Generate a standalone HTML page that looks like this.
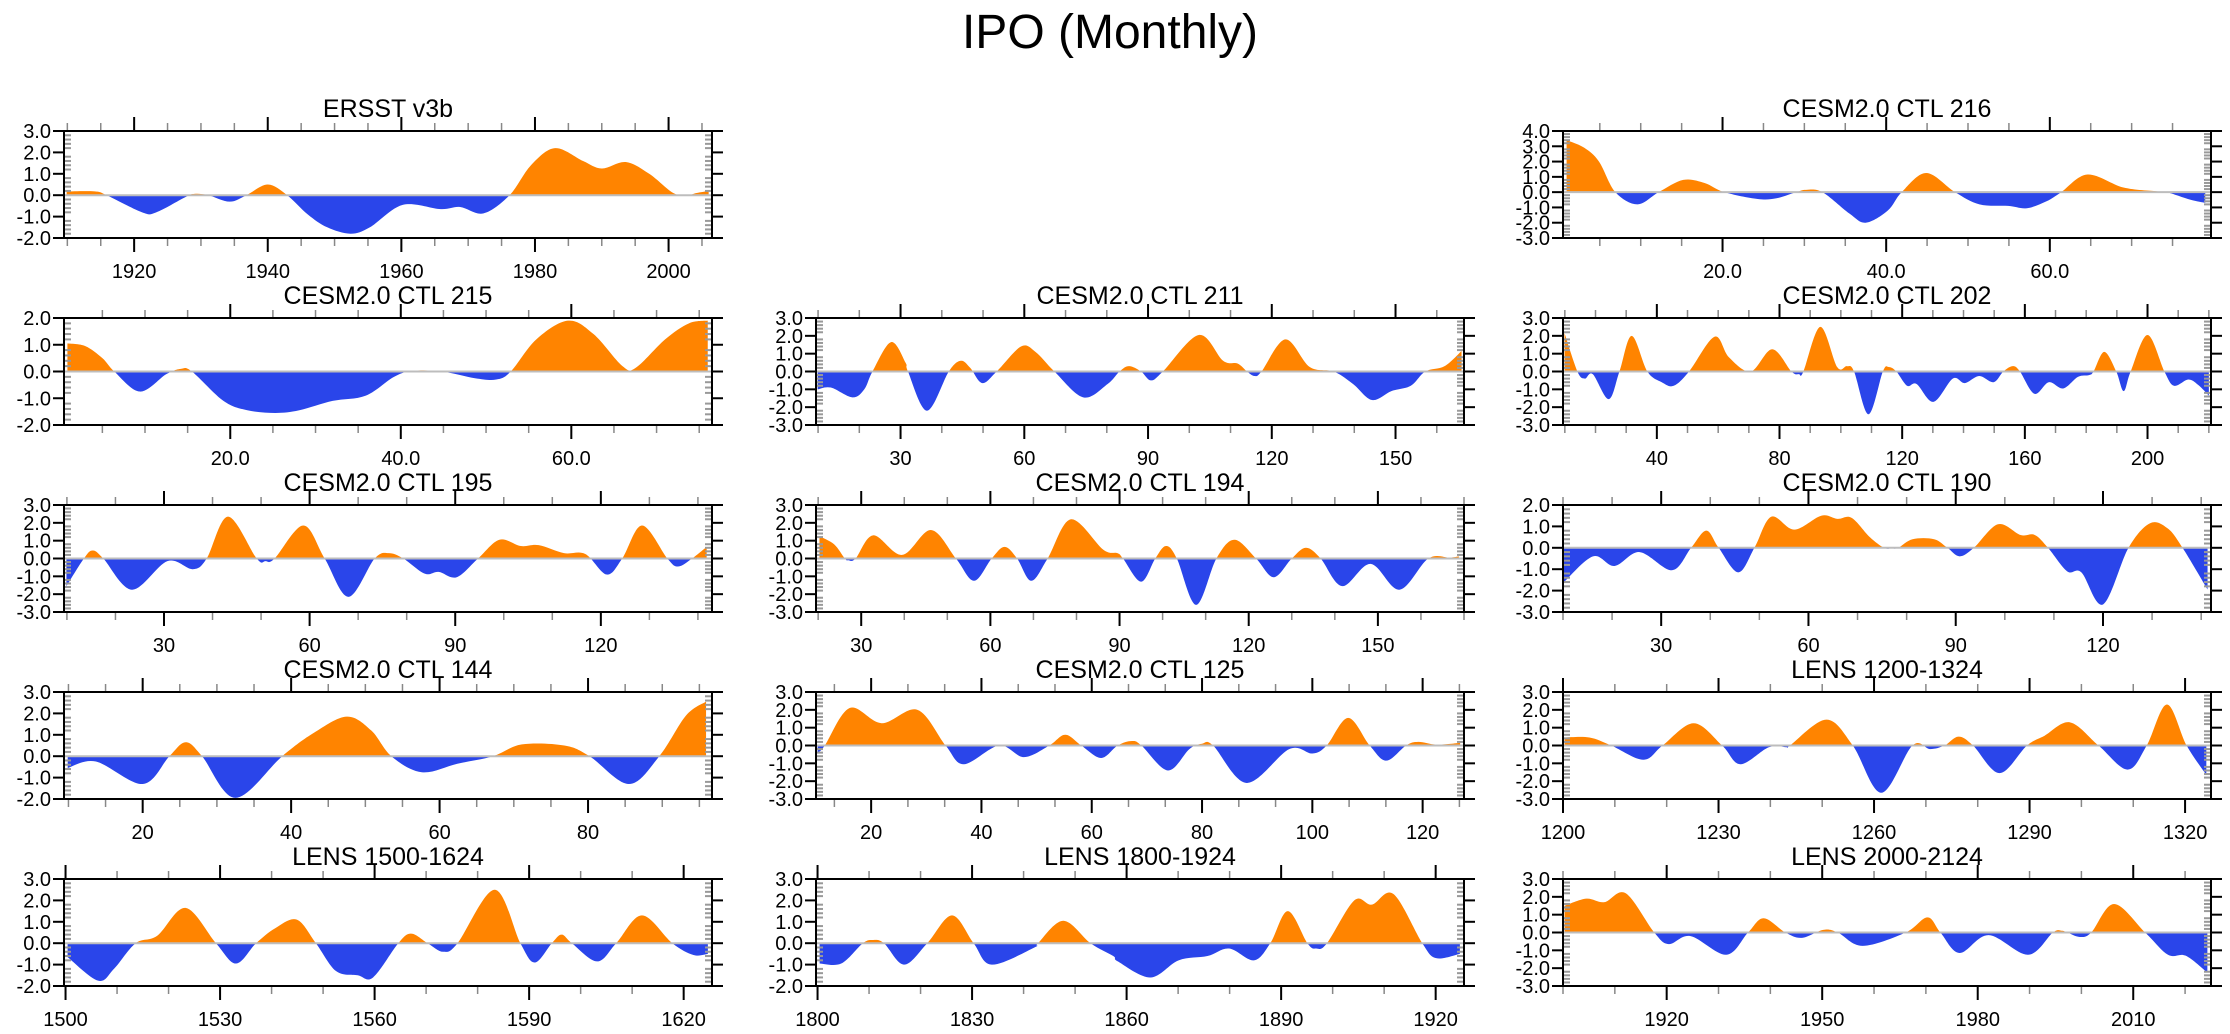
<!DOCTYPE html>
<html>
<head>
<meta charset="utf-8">
<style>
html,body{margin:0;padding:0;background:#fff;}
svg{display:block;font-family:"Liberation Sans",Arial,sans-serif;}
</style>
</head>
<body>
<svg id="chart" width="2230" height="1034" viewBox="0 0 2230 1034" xmlns="http://www.w3.org/2000/svg">
<rect x="0" y="0" width="2230" height="1034" fill="#fff"/>
<text x="1110" y="48" font-size="48" text-anchor="middle" fill="#000">IPO (Monthly)</text>
</svg>
<script>
// ---- data ----
const ersstX = [1909.9,1914.1,1915.9,1921.2,1923.3,1927.6,1929,1931.1,1934.3,1936.8,1940,1942.9,1946,1948.9,1952.4,1955.3,1960.2,1965.9,1968.8,1972.3,1976.2,1979.4,1983,1987.2,1990,1993.6,1997.1,2000.7,2002.8,2004.2,2006];
const ersstY = [0.18,0.18,0,-0.8,-0.8,-0.1,0.06,0,-0.3,0,0.5,0,-0.9,-1.5,-1.8,-1.5,-0.45,-0.65,-0.55,-0.85,0,1.4,2.2,1.6,1.25,1.55,1.0,0.1,0,0.1,0.2];

const c216X = [0.94,3.1,4.9,6.9,9.6,12.2,15.2,17.8,20.2,24.3,26.6,29,30.2,32.2,35.5,37.5,40.2,41.9,44.9,48.4,51.4,54.9,57.2,59.6,61.4,64.6,69,73.1,74.3,77.2,79];
const c216Y = [3.4,2.9,2.0,0,-0.8,0,0.8,0.6,0,-0.45,-0.4,0,0.15,0,-1.4,-2.0,-1.2,0,1.25,0,-0.8,-0.9,-1.05,-0.6,0,1.15,0.3,0.05,0,-0.5,-0.7];

const c215X = [0.9,3,5,6.4,9.4,12.5,14.2,15.5,19.2,22,25.3,28.1,32,35.9,39.2,41.4,44.8,48.7,51.2,52.9,55.9,59.6,62.6,66,67.6,71,73.8,76];
const c215Y = [1.05,0.95,0.5,0,-0.75,-0.1,0.1,0,-1.1,-1.45,-1.55,-1.45,-1.1,-0.9,-0.2,0.02,0,-0.25,-0.3,0,1.2,1.9,1.4,0.2,0.15,1.2,1.8,1.9];

const c211X = [9.9,13.1,18.3,21.2,23.2,27.7,31.2,31.8,36.4,41.7,44.6,46.9,49.8,53.3,59.2,62.7,67.3,74.3,80.2,83.1,85.4,88.3,90.7,93.6,102.3,108.2,111.7,114,115.8,117.5,123.3,129.2,135,139.7,144.3,149,153.7,157.2,161.9,166];
const c211Y = [-1.0,-0.9,-1.45,-1.0,0,1.65,0.5,0,-2.2,0,0.6,0.2,-0.65,0,1.4,1.1,0,-1.45,-0.7,0,0.3,0,-0.5,0,2.05,0.6,0.45,0,-0.25,0,1.8,0.25,0,-0.7,-1.6,-1.1,-0.8,0,0.3,1.15];

const c202X = [9.9,14.1,16.5,19.1,24.3,27.8,31.8,36.9,41.6,45.5,50.5,58.8,63.5,70.6,77.6,83.9,86.3,87.8,93.3,98.8,102,104.3,109,113.7,115.6,118.1,121.6,124.7,130.2,136.5,140.4,145.1,149.8,153,156.1,158.4,163.1,167.8,172.5,177.3,180.9,182.4,185.9,189.8,192.2,194.5,200,205.5,208.6,213.3,216.5,220];
const c202Y = [2.15,0,-0.4,-0.15,-1.55,0,2.0,0,-0.6,-0.8,0,1.95,0.8,0,1.25,0,-0.15,0,2.5,0.25,0.3,0,-2.4,0,0.25,0,-0.8,-0.7,-1.7,-0.4,-0.65,-0.25,-0.6,0,0.3,0,-1.25,-0.6,-0.95,-0.3,-0.2,0,1.1,0,-1.1,0,2.05,0,-0.8,-0.45,-0.75,-1.35];

const c195X = [9.9,13.5,15.3,17.5,23.4,30.7,35.9,38.8,43.2,49.1,50.9,52.8,58.7,63.1,68,73.4,76.3,79.3,83.7,86.6,90.3,94.7,99.1,103.5,107.2,112.4,116.8,121.2,124.4,128.5,133.7,135.9,138.8,141.8];
const c195Y = [-1.55,0,0.45,0,-1.75,-0.15,-0.6,0,2.35,0,-0.15,0,1.85,0,-2.15,0,0.3,0,-0.85,-0.75,-1.05,0,1.05,0.7,0.75,0.3,0.25,-0.9,0,1.85,0,-0.45,0,0.65];

const c194X = [20.3,23.7,26.2,27,28.7,32.8,39.5,46.2,52,56.2,60.3,63.3,66.2,69.5,73.3,78.7,86.2,89.5,90.8,95,98.3,100.8,103.3,107.8,112.5,116.7,121.7,125.8,130,133.3,136.7,141.7,148.3,155,161.7,166.7,168.8];
const c194Y = [1.25,0.8,0,-0.1,0,1.3,0.2,1.6,0,-1.25,0,0.65,0,-1.25,0,2.2,0.5,0.3,0,-1.3,0,0.7,0,-2.6,0,1.05,0,-1.05,0,0.6,0,-1.55,-0.3,-1.75,0,0.05,0.12];

const c190X = [10.2,16.1,20.5,25.6,32.2,36.1,39.2,41.7,45.7,49,52.4,57.1,62.6,65.9,68.8,72.5,75.4,76.9,78.3,81.2,85.6,88.3,90.8,93.7,98.6,103.2,106.1,108.8,112.7,115.6,120,125.2,129.6,133.2,136.2,141.3];
const c190Y = [-1.6,-0.4,-0.85,-0.2,-1.05,0,0.8,0,-1.15,0,1.45,0.85,1.5,1.35,1.4,0.5,0,-0.02,0,0.4,0.4,0,-0.4,0,1.1,0.6,0.6,0,-1.1,-1.15,-2.65,0,1.15,0.9,0,-1.95];

const c144X = [9.9,13.7,20,23.6,25.8,28,32.5,38.8,43.1,47.5,50.8,53.5,57.6,62.4,67.2,71.1,76.8,80.2,85.5,89.6,93.2,95.9];
const c144Y = [-0.55,-0.25,-1.3,0,0.65,0,-1.95,0,1.1,1.85,1.2,0,-0.75,-0.35,0,0.55,0.5,0,-1.3,0,1.9,2.55];

const c125X = [10.3,11.6,16.1,21.9,28.4,33.5,36.8,43.2,47.7,52.3,55.2,58.1,61.7,64.7,67.3,69,73.8,77.7,80,82,88.1,95.8,100,102.6,106.5,110.4,113.4,117,119.2,122.5,126.8];
const c125Y = [-0.4,0,2.1,1.25,2.0,0,-1.05,0,-0.65,0,0.6,0,-0.7,0,0.25,0,-1.4,-0.2,0.1,0,-2.1,-0.2,-0.45,0,1.55,0,-0.85,0,0.2,0.05,0.15];

const lens1200X = [1200.3,1205.1,1209.3,1215.5,1219.2,1225.2,1230.7,1234.2,1239.7,1243.2,1243.8,1250.8,1255.9,1261.4,1267.4,1270.8,1273.6,1276.3,1279.1,1284.2,1289.5,1292.9,1297.8,1303.3,1308.9,1312.6,1316.5,1320.3,1324.1];
const lens1200Y = [0.45,0.45,0,-0.8,0,1.25,0,-1.05,-0.1,-0.1,0,1.45,0,-2.65,0,-0.2,0,0.5,0,-1.55,0,0.55,1.3,0,-1.35,0,2.3,0,-1.65];

const lens1500X = [1500.4,1506.3,1509.4,1513.6,1517.8,1523.3,1529.2,1533.1,1537,1540.7,1544.9,1548.6,1552.5,1556.7,1559.7,1564.6,1567.1,1570.3,1573.3,1576.1,1583.3,1588.3,1591.1,1594.4,1596.3,1598.3,1603.2,1606.9,1611.9,1617.8,1621.9,1624.7];
const lens1500Y = [-0.65,-1.75,-1.2,0,0.35,1.65,0,-0.95,0,0.7,1.1,0,-1.3,-1.5,-1.6,0,0.45,0,-0.4,0,2.5,0,-0.9,0,0.4,0,-0.85,0,1.3,0,-0.55,-0.5];

const lens1800X = [1800.4,1804.6,1808.8,1810.8,1812.9,1816.8,1821.3,1826.1,1830.3,1833.8,1842.1,1842.8,1847.7,1853,1857.4,1858.3,1864.6,1870.1,1875.7,1879.9,1884.7,1887.9,1891.3,1895.1,1896.8,1898.9,1904.2,1907.6,1911.8,1917.4,1920.1,1924.7];
const lens1800Y = [-0.95,-0.95,0,0.15,0,-1.0,0,1.3,0,-1.0,-0.2,0,1.05,0,-0.6,-0.85,-1.6,-0.8,-0.6,-0.25,-0.8,0,1.5,0,-0.25,0,2.0,1.8,2.3,0,-0.7,-0.5];

const lens2000X = [1900.3,1904.5,1908,1912.1,1917.6,1920.4,1924.6,1931.5,1935.7,1938.7,1942.9,1946.1,1950.2,1953,1957.8,1966.1,1970.3,1972.8,1976.5,1982.1,1989.7,1994.5,1996.2,1997.3,1999.7,2001.9,2006.3,2012.3,2016.7,2020.1,2024.3];
const lens2000Y = [1.5,1.9,1.7,2.2,0,-0.65,-0.2,-1.25,0,0.8,0,-0.3,0.15,0,-0.75,0,0.85,0,-1.15,-0.15,-1.25,0,0.1,0,-0.25,0,1.6,0,-1.25,-1.3,-2.25];

const panelTitles = ["ERSST v3b","CESM2.0 CTL 216","CESM2.0 CTL 215","CESM2.0 CTL 211","CESM2.0 CTL 202","CESM2.0 CTL 195","CESM2.0 CTL 194","CESM2.0 CTL 190","CESM2.0 CTL 144","CESM2.0 CTL 125","LENS 1200-1324","LENS 1500-1624","LENS 1800-1924","LENS 2000-2124"];

// ---- layout / axis config ----
const panels = [
 {id:"ersst",row:0,col:0,xs:ersstX,ys:ersstY,x0:1909.5,x1:2006.5,y0:-2,y1:3,maj:20,min:5,dec:0},
 {id:"ctl-216",row:0,col:2,xs:c216X,ys:c216Y,x0:0.5,x1:79.7,y0:-3,y1:4,maj:20,min:5,dec:1},
 {id:"ctl-215",row:1,col:0,xs:c215X,ys:c215Y,x0:0.5,x1:76.5,y0:-2,y1:2,maj:20,min:5,dec:1},
 {id:"ctl-211",row:1,col:1,xs:c211X,ys:c211Y,x0:9.5,x1:166.6,y0:-3,y1:3,maj:30,min:10,dec:0},
 {id:"ctl-202",row:1,col:2,xs:c202X,ys:c202Y,x0:9.4,x1:220.7,y0:-3,y1:3,maj:40,min:10,dec:0},
 {id:"ctl-195",row:2,col:0,xs:c195X,ys:c195Y,x0:9.4,x1:142.9,y0:-3,y1:3,maj:30,min:10,dec:0},
 {id:"ctl-194",row:2,col:1,xs:c194X,ys:c194Y,x0:19.5,x1:170,y0:-3,y1:3,maj:30,min:10,dec:0},
 {id:"ctl-190",row:2,col:2,xs:c190X,ys:c190Y,x0:10,x1:142,y0:-3,y1:2,maj:30,min:10,dec:0},
 {id:"ctl-144",row:3,col:0,xs:c144X,ys:c144Y,x0:9.4,x1:96.7,y0:-2,y1:3,maj:20,min:5,dec:0},
 {id:"ctl-125",row:3,col:1,xs:c125X,ys:c125Y,x0:10,x1:127.5,y0:-3,y1:3,maj:20,min:20/3,dec:0},
 {id:"lens-1200",row:3,col:2,xs:lens1200X,ys:lens1200Y,x0:1200,x1:1325,y0:-3,y1:3,maj:30,min:10,dec:0},
 {id:"lens-1500",row:4,col:0,xs:lens1500X,ys:lens1500Y,x0:1499.7,x1:1625.5,y0:-2,y1:3,maj:30,min:10,dec:0},
 {id:"lens-1800",row:4,col:1,xs:lens1800X,ys:lens1800Y,x0:1799.7,x1:1925.5,y0:-2,y1:3,maj:30,min:10,dec:0},
 {id:"lens-2000",row:4,col:2,xs:lens2000X,ys:lens2000Y,x0:1900,x1:2025,y0:-3,y1:3,maj:30,min:10,dec:0}
];
const colLeft = [64, 816, 1563];
const panelW = 648, panelH = 107, rowTop0 = 131, rowStep = 187;
const NS = "http://www.w3.org/2000/svg";
const svg = document.getElementById("chart");

function mk(tag, attrs, parent){
  const e = document.createElementNS(NS, tag);
  for (const k in attrs) e.setAttribute(k, attrs[k]);
  parent.appendChild(e);
  return e;
}
function smoothPath(pts){
  let d = "";
  for (let i=0;i<pts.length-1;i++){
    const p0 = pts[Math.max(0,i-1)], p1 = pts[i], p2 = pts[i+1], p3 = pts[Math.min(pts.length-1,i+2)];
    const c1x = p1[0] + (p2[0]-p0[0])/6, c1y = p1[1] + (p2[1]-p0[1])/6;
    const c2x = p2[0] - (p3[0]-p1[0])/6, c2y = p2[1] - (p3[1]-p1[1])/6;
    d += " C" + c1x.toFixed(2)+","+c1y.toFixed(2)+" "+c2x.toFixed(2)+","+c2y.toFixed(2)+" "+p2[0].toFixed(2)+","+p2[1].toFixed(2);
  }
  return d;
}

panels.forEach((p, idx) => {
  const L = colLeft[p.col], T = rowTop0 + p.row*rowStep, R = L + panelW, B = T + panelH;
  const sx = v => L + (v - p.x0)/(p.x1 - p.x0)*panelW;
  const sy = v => T + (p.y1 - v)/(p.y1 - p.y0)*panelH;
  const g = mk("g", {}, svg);
  
  

  const title = mk("text", {x:(L+R)/2, y:T-14, "font-size":25, "text-anchor":"middle", fill:"#000"}, g);
  title.textContent = panelTitles[idx];
  
  

  const z = sy(0);
  const defs = mk("defs", {}, g);
  const cpA = mk("clipPath", {id:"ca"+idx}, defs);
  mk("rect", {x:L, y:T, width:panelW, height:z-T}, cpA);
  const cpB = mk("clipPath", {id:"cb"+idx}, defs);
  mk("rect", {x:L, y:z, width:panelW, height:B-z}, cpB);

  const pts = p.xs.map((x,i) => [sx(x), sy(p.ys[i])]);
  const d = "M" + pts[0][0].toFixed(2) + "," + z.toFixed(2) + " L" + pts[0][0].toFixed(2) + "," + pts[0][1].toFixed(2) + smoothPath(pts) + " L" + pts[pts.length-1][0].toFixed(2) + "," + z.toFixed(2) + " Z";
  const pos = mk("path", {d:d, fill:"#ff8400", "clip-path":"url(#ca"+idx+")"}, g);
  
  
  const neg = mk("path", {d:d, fill:"#2a45ea", "clip-path":"url(#cb"+idx+")"}, g);
  
  

  const zl = mk("line", {x1:L, x2:R, y1:z, y2:z, stroke:"#bdbdbd", "stroke-width":2}, g);
  
  

  for (let v = p.y0; v <= p.y1 + 1e-6; v += 0.2){
    const y = sy(v);
    const isMaj = Math.abs(v - Math.round(v)) < 1e-6;
    if (isMaj){
      mk("line", {x1:L-11, x2:L, y1:y, y2:y, stroke:"#000", "stroke-width":2}, g);
      mk("line", {x1:R, x2:R+11, y1:y, y2:y, stroke:"#000", "stroke-width":2}, g);
      const t = mk("text", {x:L-13, y:y+7, "font-size":20, "text-anchor":"end", fill:"#000"}, g);
      t.textContent = Math.round(v).toFixed(1);
      
      
    } else {
      mk("line", {x1:L, x2:L+7, y1:y, y2:y, stroke:"#999", "stroke-width":2}, g);
      mk("line", {x1:R-7, x2:R, y1:y, y2:y, stroke:"#999", "stroke-width":2}, g);
    }
  }
  const mStart = Math.ceil(p.x0/p.min - 1e-6)*p.min;
  for (let v = mStart; v <= p.x1 + 1e-6; v += p.min){
    const x = sx(v);
    mk("line", {x1:x, x2:x, y1:T-8, y2:T, stroke:"#888", "stroke-width":1.5}, g);
    mk("line", {x1:x, x2:x, y1:B, y2:B+8, stroke:"#888", "stroke-width":1.5}, g);
  }
  const MStart = Math.ceil(p.x0/p.maj - 1e-6)*p.maj;
  for (let v = MStart; v <= p.x1 + 1e-6; v += p.maj){
    const x = sx(v);
    mk("line", {x1:x, x2:x, y1:T-14, y2:T, stroke:"#000", "stroke-width":2}, g);
    mk("line", {x1:x, x2:x, y1:B, y2:B+14, stroke:"#000", "stroke-width":2}, g);
    const t = mk("text", {x:x, y:B+40, "font-size":20, "text-anchor":"middle", fill:"#000"}, g);
    t.textContent = v.toFixed(p.dec);
    
    
  }
  const fr = mk("rect", {x:L, y:T, width:panelW, height:panelH, fill:"none", stroke:"#000", "stroke-width":2}, g);
  
  
});
</script>
</body>
</html>
